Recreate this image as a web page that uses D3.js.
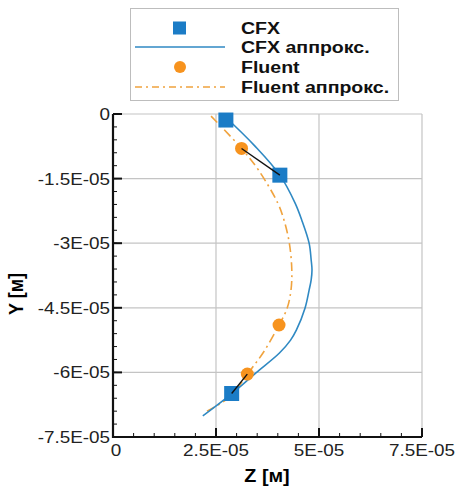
<!DOCTYPE html>
<html lang="ru">
<head>
<meta charset="UTF-8">
<title>Y(Z)</title>
<script src="https://d3js.org/d3.v7.min.js"></script>
<style>
  body { margin: 0; background: #fff; }
  text { font-family: "Liberation Sans", Arial, sans-serif; }
</style>
</head>
<body>
<div id="chart"></div>
<script>
// data (values in metres)
const xTicks = [0, 2.5e-5, 5e-5, 7.5e-5];
const xTickLabels = ["0", "2.5E-05", "5E-05", "7.5E-05"];
const yTicks = [0, -1.5e-5, -3e-5, -4.5e-5, -6e-5, -7.5e-5];
const yTickLabels = ["0", "-1.5E-05", "-3E-05", "-4.5E-05", "-6E-05", "-7.5E-05"];

const cfxZ = [2.74e-5, 4.05e-5, 2.88e-5];
const cfxY = [-0.14e-5, -1.42e-5, -6.49e-5];
const fluentZ = [3.12e-5, 4.03e-5, 3.26e-5];
const fluentY = [-0.80e-5, -4.90e-5, -6.04e-5];

const cfxFitZ = [2.73e-5, 3.44e-5, 4.05e-5, 4.42e-5, 4.58e-5, 4.76e-5, 4.81e-5, 4.83e-5, 4.81e-5, 4.76e-5, 4.66e-5, 4.45e-5, 4.31e-5, 4.04e-5, 3.47e-5, 2.90e-5, 2.18e-5];
const cfxFitY = [-0.07e-5, -0.74e-5, -1.42e-5, -2.07e-5, -2.46e-5, -3.00e-5, -3.39e-5, -3.62e-5, -3.85e-5, -4.09e-5, -4.51e-5, -5.02e-5, -5.25e-5, -5.55e-5, -6.01e-5, -6.48e-5, -7.01e-5];
const fluentFitZ = [2.38e-5, 3.12e-5, 3.53e-5, 4.00e-5, 4.15e-5, 4.28e-5, 4.34e-5, 4.32e-5, 4.23e-5, 4.03e-5, 3.64e-5, 3.26e-5, 2.86e-5, 2.28e-5];
const fluentFitY = [-0.05e-5, -0.80e-5, -1.30e-5, -2.07e-5, -2.46e-5, -3.00e-5, -3.62e-5, -4.09e-5, -4.50e-5, -4.90e-5, -5.55e-5, -6.04e-5, -6.55e-5, -6.90e-5];

// black connectors: fluent point -> cfx point
const pairs = [[0, 1], [2, 2]];

const W = 457, H = 491;
const stretch = 1.18;
const blue = "#1b7cc6", blueLine = "#2f89c3", orange = "#f7931e", orangeLine = "#f0a33e";

const svg = d3.select("#chart").append("svg").attr("width", W).attr("height", H);

const x = d3.scaleLinear().domain([0, 7.5e-5]).range([113, 422]);
const y = d3.scaleLinear().domain([-7.5e-5, 0]).range([437, 114]);

// grid
const grid = svg.append("g").attr("stroke", "#c4c4c4").attr("stroke-width", 1.2);
grid.selectAll(".gx").data(xTicks.slice(1)).join("line")
  .attr("x1", d => x(d)).attr("x2", d => x(d)).attr("y1", y(0)).attr("y2", y(-7.5e-5));
grid.selectAll(".gy").data(yTicks.slice(0, -1)).join("line")
  .attr("y1", d => y(d)).attr("y2", d => y(d)).attr("x1", x(0)).attr("x2", x(7.5e-5));

// axes with inward ticks
const xMinor = d3.range(0, 7.5e-5 + 1e-12, 0.5e-5);
const yMinor = d3.range(0, -7.5e-5 - 1e-12, -0.3e-5);
const ax = svg.append("g").attr("stroke", "#111");
ax.selectAll(".mx").data(xMinor).join("line")
  .attr("x1", d => x(d)).attr("x2", d => x(d)).attr("y1", y(-7.5e-5)).attr("y2", y(-7.5e-5) - 4)
  .attr("stroke-width", 1);
ax.selectAll(".Mx").data(xTicks).join("line")
  .attr("x1", d => x(d)).attr("x2", d => x(d)).attr("y1", y(-7.5e-5)).attr("y2", y(-7.5e-5) - 9)
  .attr("stroke-width", 2);
ax.selectAll(".my").data(yMinor).join("line")
  .attr("y1", d => y(d)).attr("y2", d => y(d)).attr("x1", x(0)).attr("x2", x(0) + 4)
  .attr("stroke-width", 1);
ax.selectAll(".My").data(yTicks).join("line")
  .attr("y1", d => y(d)).attr("y2", d => y(d)).attr("x1", x(0)).attr("x2", x(0) + 9)
  .attr("stroke-width", 2);
ax.append("path")
  .attr("d", `M${x(0)},${y(0)}V${y(-7.5e-5)}H${x(7.5e-5)}`)
  .attr("fill", "none").attr("stroke-width", 2.2);

// tick labels
svg.selectAll(".xl").data(xTicks).join("text")
  .attr("transform", (d, i) => `translate(${x(d) + (i === 0 ? 3 : 0)},456) scale(${stretch},1)`)
  .attr("text-anchor", "middle").attr("font-size", 16).attr("fill", "#222")
  .text((d, i) => xTickLabels[i]);
svg.selectAll(".yl").data(yTicks).join("text")
  .attr("transform", d => `translate(110,${y(d) + 6}) scale(${stretch},1)`)
  .attr("text-anchor", "end").attr("font-size", 16).attr("fill", "#222")
  .text((d, i) => yTickLabels[i]);

// axis titles
svg.append("text")
  .attr("transform", `translate(267,482) scale(1.1,1)`)
  .attr("text-anchor", "middle").attr("font-size", 18).attr("font-weight", "bold")
  .text("Z [м]");
svg.append("text")
  .attr("transform", `translate(23,294) rotate(-90) scale(1,1.1)`)
  .attr("text-anchor", "middle").attr("font-size", 18).attr("font-weight", "bold")
  .text("Y [м]");

// curves
const line = d3.line().x(d => x(d[0])).y(d => y(d[1])).curve(d3.curveCatmullRom.alpha(0.5));
svg.append("path")
  .datum(fluentFitZ.map((z, i) => [z, fluentFitY[i]]))
  .attr("d", line).attr("fill", "none").attr("stroke", orangeLine)
  .attr("stroke-width", 1.6).attr("stroke-dasharray", "9,4,2,4");
svg.append("path")
  .datum(cfxFitZ.map((z, i) => [z, cfxFitY[i]]))
  .attr("d", line).attr("fill", "none").attr("stroke", blueLine).attr("stroke-width", 1.6);

// markers
svg.selectAll(".sq").data(cfxZ).join("rect")
  .attr("x", (d, i) => x(d) - 7.5).attr("y", (d, i) => y(cfxY[i]) - 7.5)
  .attr("width", 15).attr("height", 15).attr("fill", blue);
svg.selectAll(".ci").data(fluentZ).join("circle")
  .attr("cx", d => x(d)).attr("cy", (d, i) => y(fluentY[i])).attr("r", 6.5)
  .attr("fill", orange);

// connectors
svg.selectAll(".cn").data(pairs).join("line")
  .attr("x1", d => x(fluentZ[d[0]])).attr("y1", d => y(fluentY[d[0]]))
  .attr("x2", d => x(cfxZ[d[1]])).attr("y2", d => y(cfxY[d[1]]))
  .attr("stroke", "#111").attr("stroke-width", 1.4);

// legend
const lg = svg.append("g");
lg.append("rect").attr("x", 130.5).attr("y", 8.5).attr("width", 268).attr("height", 92)
  .attr("fill", "#fff").attr("stroke", "#bdbdbd").attr("stroke-width", 1);
const legendNames = ["CFX", "CFX аппрокс.", "Fluent", "Fluent аппрокс."];
const rowY = [28, 47, 67, 87];
lg.append("rect").attr("x", 173).attr("y", rowY[0] - 6.5).attr("width", 13).attr("height", 13).attr("fill", blue);
lg.append("line").attr("x1", 135).attr("x2", 225).attr("y1", rowY[1]).attr("y2", rowY[1])
  .attr("stroke", blueLine).attr("stroke-width", 1.6);
lg.append("circle").attr("cx", 180).attr("cy", rowY[2]).attr("r", 6).attr("fill", orange);
lg.append("line").attr("x1", 135).attr("x2", 225).attr("y1", rowY[3]).attr("y2", rowY[3])
  .attr("stroke", orangeLine).attr("stroke-width", 1.6).attr("stroke-dasharray", "7,4,2,4");
lg.selectAll(".lt").data(legendNames).join("text")
  .attr("transform", (d, i) => `translate(241,${rowY[i] + 6}) scale(1.15,1)`)
  .attr("font-size", 17).attr("font-weight", "bold").attr("fill", "#111")
  .text(d => d);
</script>
</body>
</html>
